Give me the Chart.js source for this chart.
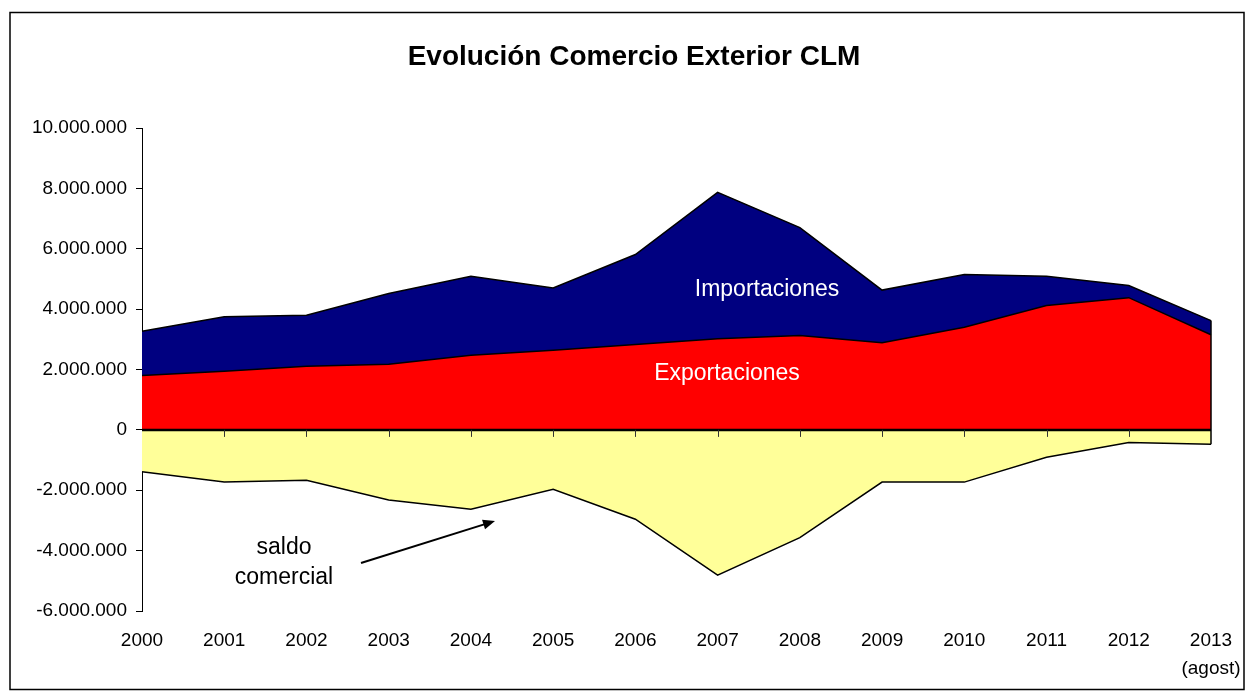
<!DOCTYPE html>
<html>
<head>
<meta charset="utf-8">
<script src="https://cdn.jsdelivr.net/npm/chart.js@4.4.1/dist/chart.umd.min.js"></script>
<style>
  html, body { margin: 0; padding: 0; background: #fff; }
  #wrap { width: 1251px; height: 700px; position: relative; }
</style>
</head>
<body>
<div id="wrap"><canvas id="chart" width="1251" height="700"></canvas></div>
<script>
// Comercio exterior de Castilla-La Mancha (miles de euros)
const years = ['2000', '2001', '2002', '2003', '2004', '2005', '2006', '2007', '2008', '2009', '2010', '2011', '2012', ['2013', '(agost)']];
const exportaciones = [1800000, 1940000, 2110000, 2170000, 2470000, 2640000, 2830000, 3020000, 3130000, 2890000, 3400000, 4120000, 4380000, 3150000];
const importaciones = [3270000, 3750000, 3800000, 4520000, 5090000, 4700000, 5810000, 7870000, 6700000, 4630000, 5150000, 5090000, 4780000, 3620000];
const saldo = [-1390000, -1730000, -1670000, -2320000, -2630000, -1970000, -2960000, -4810000, -3570000, -1730000, -1730000, -910000, -420000, -480000];
const yTicks = [-6000000, -4000000, -2000000, 0, 2000000, 4000000, 6000000, 8000000, 10000000];

const FONT = '"Liberation Sans", Arial, sans-serif';

function miles(v) {
  const s = Math.abs(v).toString().replace(/\B(?=(\d{3})+(?!\d))/g, '.');
  return (v < 0 ? '-' : '') + s;
}

// frame, title, zero axis, annotations
const decor = {
  id: 'decor',
  beforeDraw(chart) {
    const ctx = chart.ctx;
    ctx.save();
    ctx.fillStyle = '#fff';
    ctx.fillRect(0, 0, chart.width, chart.height);
    ctx.strokeStyle = '#000';
    ctx.lineWidth = 1.5;
    ctx.strokeRect(10, 12.5, 1234, 677);
    ctx.restore();
  },
  afterDatasetsDraw(chart) {
    const ctx = chart.ctx;
    const x = chart.scales.x, y = chart.scales.y;
    const y0 = y.getPixelForValue(0);
    const last = years.length - 1;
    ctx.save();

    // right edge of the areas
    ctx.strokeStyle = '#000';
    ctx.lineWidth = 1.5;
    ctx.beginPath();
    ctx.moveTo(x.getPixelForValue(last), y.getPixelForValue(importaciones[last]));
    ctx.lineTo(x.getPixelForValue(last), y.getPixelForValue(saldo[last]));
    ctx.stroke();

    // category axis on the zero line
    ctx.lineWidth = 2.5;
    ctx.beginPath();
    ctx.moveTo(chart.chartArea.left, y0);
    ctx.lineTo(chart.chartArea.right, y0);
    ctx.stroke();
    ctx.lineWidth = 1;
    ctx.strokeStyle = '#333';
    for (let i = 1; i < last; i++) {
      const px = Math.round(x.getPixelForValue(i)) + 0.5;
      ctx.beginPath();
      ctx.moveTo(px, y0);
      ctx.lineTo(px, y0 + 7);
      ctx.stroke();
    }

    // series labels
    ctx.textAlign = 'center';
    ctx.textBaseline = 'middle';
    ctx.font = '23px ' + FONT;
    ctx.fillStyle = '#fff';
    ctx.fillText('Importaciones', 767, 290);
    ctx.fillText('Exportaciones', 727, 374);
    ctx.fillStyle = '#000';
    ctx.fillText('saldo', 284, 548);
    ctx.fillText('comercial', 284, 578);

    // arrow towards the balance area
    const ax = 361, ay = 563, bx = 495, by = 521;
    const ang = Math.atan2(by - ay, bx - ax);
    ctx.strokeStyle = '#000';
    ctx.lineWidth = 2;
    ctx.beginPath();
    ctx.moveTo(ax, ay);
    ctx.lineTo(bx - 8 * Math.cos(ang), by - 8 * Math.sin(ang));
    ctx.stroke();
    ctx.beginPath();
    ctx.moveTo(bx, by);
    ctx.lineTo(bx - 12 * Math.cos(ang) + 5 * Math.sin(ang), by - 12 * Math.sin(ang) - 5 * Math.cos(ang));
    ctx.lineTo(bx - 12 * Math.cos(ang) - 5 * Math.sin(ang), by - 12 * Math.sin(ang) + 5 * Math.cos(ang));
    ctx.closePath();
    ctx.fill();
    ctx.restore();
  },
  afterDraw(chart) {
    const ctx = chart.ctx;
    ctx.save();
    ctx.font = 'bold 28px ' + FONT;
    ctx.fillStyle = '#000';
    ctx.textAlign = 'center';
    ctx.textBaseline = 'middle';
    ctx.fillText('Evolución Comercio Exterior CLM', 634, 57);
    ctx.restore();
  }
};

new Chart(document.getElementById('chart'), {
  type: 'line',
  data: {
    labels: years,
    datasets: [
      {
        label: 'Exportaciones',
        data: exportaciones,
        backgroundColor: '#ff0000',
        borderColor: '#000',
        borderWidth: 1.5,
        fill: 'origin'
      },
      {
        label: 'Importaciones',
        data: importaciones,
        backgroundColor: '#000080',
        borderColor: '#000',
        borderWidth: 1.5,
        fill: 'origin'
      },
      {
        label: 'Saldo comercial',
        data: saldo,
        backgroundColor: '#ffff99',
        borderColor: '#000',
        borderWidth: 1.5,
        fill: 'origin'
      }
    ]
  },
  options: {
    responsive: false,
    animation: false,
    layout: { padding: { left: 10, right: 40, top: 128, bottom: 10 } },
    elements: { point: { radius: 0, hoverRadius: 0 }, line: { tension: 0 } },
    plugins: {
      legend: { display: false },
      tooltip: { enabled: false },
      title: { display: false }
    },
    scales: {
      x: {
        offset: false,
        grid: { display: false },
        border: { display: false },
        ticks: {
          color: '#000',
          font: { family: FONT, size: 19, lineHeight: 1.45 },
          padding: 8,
          maxRotation: 0,
          autoSkip: false
        },
        afterFit(scale) { scale.height = 79; }
      },
      y: {
        min: -6000000,
        max: 10000000,
        afterBuildTicks(scale) { scale.ticks = yTicks.map(v => ({ value: v })); },
        grid: { display: true, drawOnChartArea: false, drawTicks: true, tickLength: 6, color: '#000' },
        border: { display: true, color: '#000', width: 1 },
        ticks: {
          color: '#000',
          font: { family: FONT, size: 19 },
          padding: 9,
          callback: v => miles(v)
        },
        afterFit(scale) { scale.width = 132; }
      }
    }
  },
  plugins: [decor]
});
</script>
</body>
</html>
